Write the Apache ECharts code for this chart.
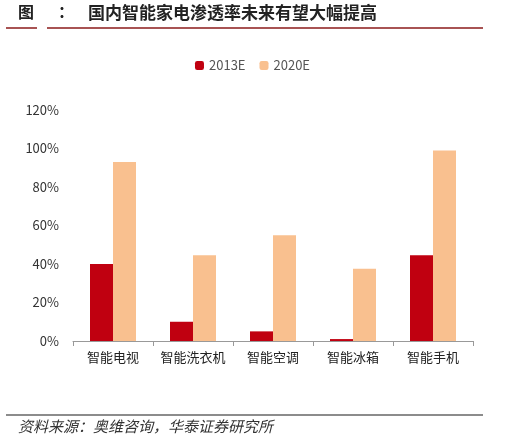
<!DOCTYPE html><html><head><meta charset="utf-8"><script src="https://cdn.jsdelivr.net/npm/echarts@6/dist/echarts.min.js"></script></head><body style="margin:0;background:#fff"><div id="c" style="width:505px;height:443px"></div><script>
const categories=['智能电视','智能洗衣机','智能空调','智能冰箱','智能手机'];
const s2013=[40,10,5,1,44.5];
const s2020=[93,44.5,55,37.5,99];
const yTicks=[0,20,40,60,80,100,120];
const ch=echarts.init(document.getElementById('c'));
const F='"Noto Sans CJK SC"';
ch.setOption({
 animation:false,
 graphic:[
  {type:'text',left:18,top:4,style:{text:'图',font:'bold 16px '+F,fill:'#222'}},
  {type:'text',left:58,top:4,style:{text:'：',font:'bold 16px '+F,fill:'#222'}},
  {type:'text',left:88,top:4,style:{text:'国内智能家电渗透率未来有望大幅提高',font:'bold 17px '+F,fill:'#222'}},
  {type:'line',shape:{x1:6,y1:28,x2:37,y2:28},style:{stroke:'#8b1a1a',lineWidth:1.5}},
  {type:'line',shape:{x1:47,y1:28,x2:483,y2:28},style:{stroke:'#8b1a1a',lineWidth:1.5}},
  {type:'line',shape:{x1:6,y1:415,x2:483,y2:415},style:{stroke:'#666',lineWidth:1.5}},
  {type:'text',left:18,top:419,style:{text:'资料来源：奥维咨询，华泰证券研究所',font:'italic 15px '+F,fill:'#333'}}
 ],
 legend:{top:54,left:'center',itemWidth:9,itemHeight:9,itemGap:14,textStyle:{fontFamily:F,fontSize:13,color:'#555'},data:['2013E','2020E']},
 grid:{left:73,right:32,top:110,bottom:102},
 xAxis:{type:'category',data:categories,axisLine:{lineStyle:{color:'#999'}},axisTick:{show:true,alignWithLabel:false,lineStyle:{color:'#999'}},axisLabel:{interval:0,fontFamily:F,fontSize:13,color:'#222',margin:10}},
 yAxis:{type:'value',min:0,max:120,interval:20,axisLine:{show:false},axisTick:{show:false},splitLine:{show:false},axisLabel:{formatter:v=>yTicks.includes(v)?v+'%':'',fontFamily:F,fontSize:13,color:'#333',margin:14}},
 series:[
  {name:'2013E',type:'bar',data:s2013,barWidth:23,barGap:'0%',itemStyle:{color:'#c00010'}},
  {name:'2020E',type:'bar',data:s2020,barWidth:23,itemStyle:{color:'#f9c08f'}}
 ]
});
</script></body></html>
